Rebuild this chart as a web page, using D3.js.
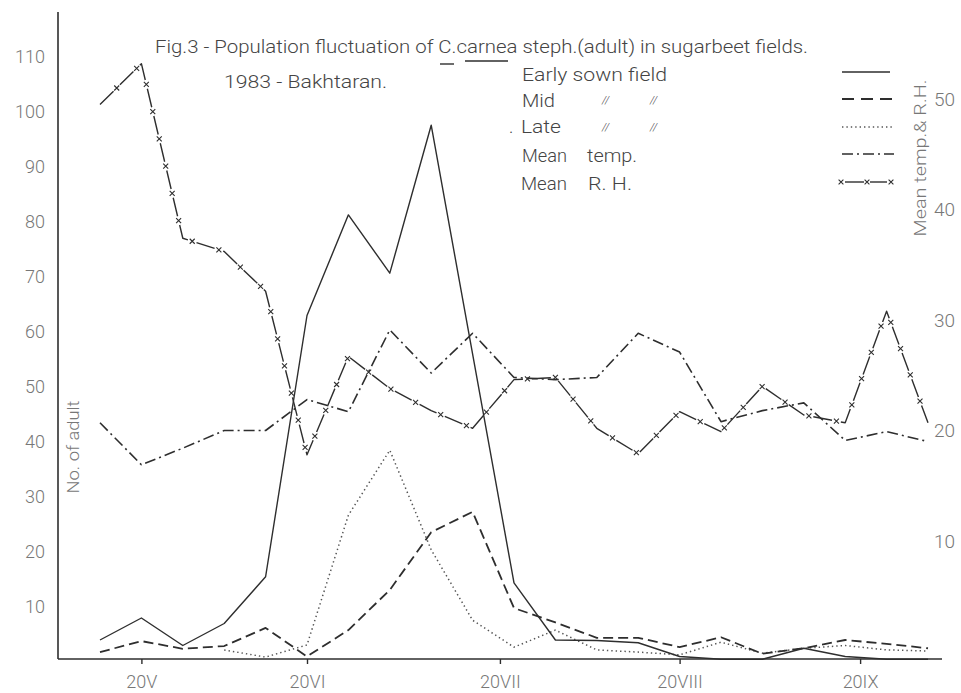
<!DOCTYPE html>
<html><head><meta charset="utf-8">
<script src="https://cdn.jsdelivr.net/npm/d3@7"></script>
<style>
body{margin:0;background:#fff}
svg{display:block}
text{font-family:Roboto,"DejaVu Sans",sans-serif;font-weight:300}
</style>
</head><body>
<svg id="chart" width="961" height="693"></svg>
<script>
// ---- data (sample index 0..20, roughly weekly) ----
const sampleIndex = d3.range(21);
const earlySown = [4, 8, 3, 7, 15.5, 63, 81.3, 70.7, 97.6, null, 14.4, 4, 3.9, 3.5, 1, 0.5, 0.5, 2.5, 1, 0.5, 0.5];
const midSown   = [1.8, 3.8, 2.4, 2.9, 6.2, 1, 5.8, 13.1, 23.6, 27.3, 9.8, 7.2, 4.4, 4.4, 2.7, 4.5, 1.5, 2.5, 4, 3.3, 2.5];
const lateSown  = [null, null, null, 2.2, 0.9, 3.1, 26.7, 38.5, 20.4, 7.6, 2.7, 5.8, 2.2, 1.8, 1.3, 3.6, 1.6, 2.5, 3, 2.2, 2];
const meanTemp  = [20.7, 16.9, 18.4, 20.0, 20.0, 22.8, 21.7, 29.1, 25.2, 28.8, 24.8, 24.6, 24.8, 28.8, 27.1, 20.8, 21.8, 22.5, 19.1, 19.9, 19.0];
const meanRH    = [49.5, 53.2, 37.4, 36.2, 32.6, 17.8, 26.7, 23.8, 21.8, 20.2, 24.6, 24.8, 20.2, 17.9, 21.7, 19.9, 24.0, 21.4, 20.7, 30.8, 20.7];
const xTickPos    = [1, 5, 9.66, 14, 18.36];
const xTickLabels = ["20V", "20VI", "20VII", "20VIII", "20IX"];
const leftTicks   = [10, 20, 30, 40, 50, 60, 70, 80, 90, 100, 110];
const rightTicks  = [10, 20, 30, 40, 50];

// ---- setup ----
const svg = d3.select("#chart");
const ink = "#2e2e2e", labelCol = "#777", textCol = "#444";
const x  = d3.scaleLinear().domain([0, 20]).range([100, 928]);
const yL = d3.scaleLinear().domain([0, 110]).range([662, 57]);
const yR = d3.scaleLinear().domain([0, 50]).range([651.5, 99]);
const axisY = 659, axisX = 58;
const fontFam = 'Roboto,"DejaVu Sans",sans-serif';

// axes lines
svg.append("line").attr("x1", axisX).attr("x2", axisX).attr("y1", 12).attr("y2", axisY)
  .attr("stroke", ink).attr("stroke-width", 1.6);
svg.append("line").attr("x1", axisX).attr("x2", 942).attr("y1", axisY).attr("y2", axisY)
  .attr("stroke", ink).attr("stroke-width", 1.6);

// bottom axis
const gx = svg.append("g").attr("transform", `translate(0,${axisY})`)
  .call(d3.axisBottom(x).tickValues(xTickPos).tickFormat((d, i) => xTickLabels[i]).tickSize(5).tickPadding(11));
gx.select(".domain").remove();
gx.selectAll(".tick line").attr("stroke", ink).attr("stroke-width", 1.4);
gx.selectAll(".tick text").attr("fill", labelCol).attr("font-size", 18).style("font-family", fontFam).style("font-weight", 300);

// left axis labels
const gl = svg.append("g").attr("transform", `translate(${axisX},0)`)
  .call(d3.axisLeft(yL).tickValues(leftTicks).tickSize(0).tickPadding(13));
gl.select(".domain").remove();
gl.selectAll(".tick text").attr("fill", labelCol).attr("font-size", 18).style("font-family", fontFam).style("font-weight", 300);

// right axis labels
const gr = svg.append("g").attr("transform", `translate(927,0)`)
  .call(d3.axisRight(yR).tickValues(rightTicks).tickSize(0).tickPadding(7));
gr.select(".domain").remove();
gr.selectAll(".tick text").attr("fill", labelCol).attr("font-size", 19).style("font-family", fontFam).style("font-weight", 300);

// axis titles
svg.append("text").attr("transform", "translate(79,447) rotate(-90)").attr("text-anchor", "middle")
  .attr("font-size", 17).attr("fill", labelCol).attr("textLength", 93).attr("lengthAdjust", "spacingAndGlyphs")
  .text("No. of adult");
svg.append("text").attr("transform", "translate(926,158) rotate(-90)").attr("text-anchor", "middle")
  .attr("font-size", 17).attr("fill", labelCol).attr("textLength", 157).attr("lengthAdjust", "spacingAndGlyphs")
  .text("Mean temp.& R.H.");

// ---- series ----
function pts(arr) { return arr.map((v, i) => ({ i: sampleIndex[i], v })).filter(d => d.v != null); }
const lineL = d3.line().x(d => x(d.i)).y(d => yL(d.v));
const lineR = d3.line().x(d => x(d.i)).y(d => yR(d.v));

const styles = {
  early: { dash: null, w: 1.4, col: ink },
  mid:   { dash: "10,5", w: 1.8, col: ink },
  late:  { dash: "1.4,3", w: 1.5, col: "#555" },
  temp:  { dash: "11,4,2,4", w: 1.6, col: ink },
  rh:    { dash: "19,9", w: 1.4, col: ink }
};
function styled(sel, s) {
  sel.attr("fill", "none").attr("stroke", s.col).attr("stroke-width", s.w).attr("stroke-linejoin", "round");
  if (s.dash) sel.attr("stroke-dasharray", s.dash);
  return sel;
}
styled(svg.append("path").attr("d", lineR(pts(meanTemp))), styles.temp);
const rhPath = styled(svg.append("path").attr("d", lineR(pts(meanRH))), styles.rh);
styled(svg.append("path").attr("d", lineL(pts(lateSown))), styles.late);
styled(svg.append("path").attr("d", lineL(pts(midSown))), styles.mid);
styled(svg.append("path").attr("d", lineL(pts(earlySown))), styles.early);

// x markers along RH line, placed in dash gaps
function xMark(g, cx, cy, r) {
  g.append("path").attr("d", `M${cx - r},${cy - r}L${cx + r},${cy + r}M${cx - r},${cy + r}L${cx + r},${cy - r}`)
    .attr("stroke", ink).attr("stroke-width", 1.1).attr("fill", "none");
}
const node = rhPath.node(), total = node.getTotalLength();
const mk = svg.append("g");
for (let L = 23.5; L < total - 2; L += 28) {
  const p = node.getPointAtLength(L);
  xMark(mk, p.x, p.y, 2.5);
}

// ---- title ----
svg.append("text").attr("x", 155).attr("y", 53).attr("font-size", 18).attr("fill", textCol)
  .attr("textLength", 653).attr("lengthAdjust", "spacingAndGlyphs")
  .text("Fig.3 - Population fluctuation of C.carnea steph.(adult) in sugarbeet fields.");
svg.append("line").attr("x1", 440).attr("x2", 454).attr("y1", 64).attr("y2", 64).attr("stroke", ink).attr("stroke-width", 1.4);
svg.append("line").attr("x1", 465).attr("x2", 508).attr("y1", 61).attr("y2", 61).attr("stroke", ink).attr("stroke-width", 1.4);
svg.append("text").attr("x", 224).attr("y", 88).attr("font-size", 18).attr("fill", textCol)
  .attr("textLength", 163).attr("lengthAdjust", "spacingAndGlyphs").text("1983 - Bakhtaran.");

// ---- legend ----
const leg = svg.append("g").attr("fill", textCol).attr("font-size", 18);
function lt(xp, yp, t, len) {
  const e = leg.append("text").attr("x", xp).attr("y", yp).text(t);
  if (len) e.attr("textLength", len).attr("lengthAdjust", "spacingAndGlyphs");
}
lt(522, 81, "Early sown field", 145);
lt(522, 107, "Mid", 33);
lt(509, 133, ".");
lt(521, 133, "Late", 40);
lt(522, 162, "Mean", 45);
lt(587, 162, "temp.", 50);
lt(521, 190, "Mean", 46);
lt(588, 190, "R. H.", 44);
[[602, 104], [650, 104], [602, 131], [650, 131]].forEach(([a, b]) =>
  leg.append("text").attr("x", a).attr("y", b).attr("font-size", 11).attr("font-style", "italic").text("//"));

const lx1 = 842, lx2 = 890;
styled(svg.append("line").attr("x1", lx1).attr("x2", lx2).attr("y1", 72).attr("y2", 72), styles.early);
styled(svg.append("line").attr("x1", lx1).attr("x2", lx2 + 3).attr("y1", 99).attr("y2", 99), styles.mid).attr("stroke-dasharray", "12,7");
styled(svg.append("line").attr("x1", lx1).attr("x2", lx2 + 4).attr("y1", 127).attr("y2", 127), styles.late);
styled(svg.append("line").attr("x1", lx1).attr("x2", lx2 + 4).attr("y1", 154).attr("y2", 154), styles.temp);
svg.append("line").attr("x1", 845).attr("x2", 864).attr("y1", 182).attr("y2", 182).attr("stroke", ink).attr("stroke-width", 1.4);
svg.append("line").attr("x1", 870).attr("x2", 887).attr("y1", 182).attr("y2", 182).attr("stroke", ink).attr("stroke-width", 1.4);
[841, 867, 891].forEach(cx => xMark(svg, cx, 182, 2.4));
</script>
</body></html>
